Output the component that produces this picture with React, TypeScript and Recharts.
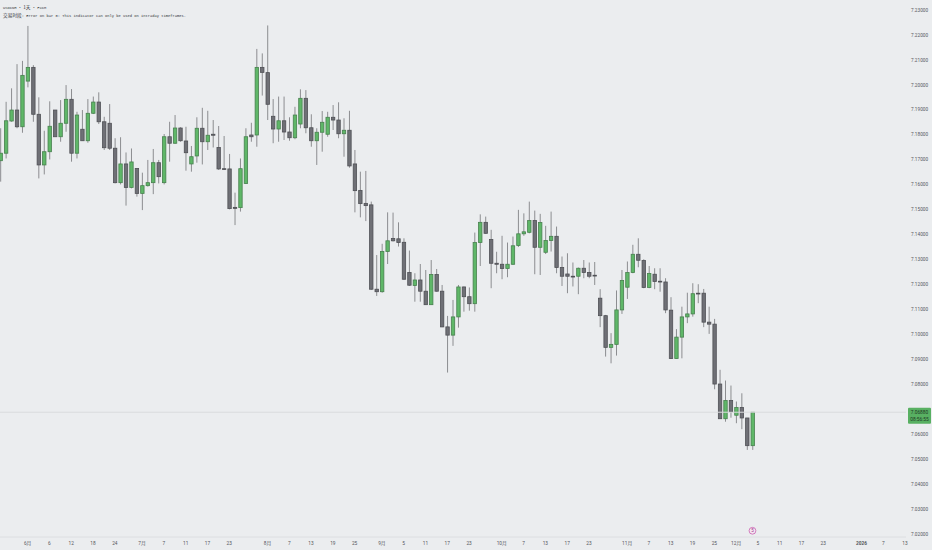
import {
  ComposedChart,
  Bar,
  XAxis,
  YAxis,
  ReferenceLine,
  ReferenceDot,
} from "recharts";

const opens = [
  7.1696, 7.1726, 7.1855, 7.1899, 7.1832, 7.2015, 7.207, 7.1882, 7.1679, 7.1732,
  7.1899, 7.1792, 7.1846, 7.1942, 7.1726, 7.1822, 7.1776, 7.1886, 7.1931, 7.1852,
  7.1846, 7.1746, 7.1608, 7.1683, 7.1589, 7.1665, 7.1565, 7.1596, 7.1608, 7.1688,
  7.1608, 7.1792, 7.1766, 7.1827, 7.1775, 7.1683, 7.1715, 7.1826, 7.1772, 7.1802,
  7.1749, 7.1664, 7.1663, 7.1509, 7.1508, 7.1605, 7.1799, 7.1799, 7.207, 7.2049,
  7.1874, 7.1823, 7.1856, 7.1811, 7.1788, 7.1843, 7.1946, 7.1828, 7.1776, 7.181,
  7.1802, 7.187, 7.1859, 7.1804, 7.1818, 7.1683, 7.1577, 7.1525, 7.1519, 7.1181,
  7.1171, 7.1332, 7.1384, 7.1383, 7.1369, 7.1248, 7.1196, 7.1218, 7.1173, 7.1119,
  7.124, 7.1173, 7.103, 7.0997, 7.107, 7.119, 7.1151, 7.1123, 7.1368, 7.1449,
  7.138, 7.1285, 7.1281, 7.1264, 7.1281, 7.1356, 7.1403, 7.1409, 7.1456, 7.1349,
  7.1329, 7.1376, 7.1393, 7.1268, 7.1242, 7.1233, 7.1233, 7.1265, 7.1248, 7.1237,
  7.1145, 7.1075, 7.0948, 7.096, 7.1098, 7.1189, 7.1248, 7.1321, 7.1296, 7.1188,
  7.1241, 7.1213, 7.121, 7.1097, 7.0903, 7.0989, 7.107, 7.1082, 7.1165, 7.1165,
  7.1049, 7.1041, 7.0801, 7.0662, 7.0735, 7.0676, 7.0707, 7.0665, 7.0554,
];

const highs = [
  7.1826, 7.1932, 7.1986, 7.2083, 7.2096, 7.2236, 7.2079, 7.195, 7.1816, 7.1934,
  7.1899, 7.1939, 7.1999, 7.1983, 7.1892, 7.1899, 7.1943, 7.1953, 7.197, 7.1872,
  7.1923, 7.1786, 7.179, 7.1729, 7.1745, 7.1665, 7.1648, 7.1699, 7.1743, 7.1699,
  7.1803, 7.1852, 7.1879, 7.183, 7.1832, 7.1755, 7.187, 7.1908, 7.1896, 7.1859,
  7.1835, 7.1795, 7.1723, 7.1568, 7.1705, 7.1826, 7.1848, 7.2144, 7.2126, 7.2238,
  7.1943, 7.1953, 7.1953, 7.187, 7.1912, 7.1982, 7.1979, 7.1882, 7.1826, 7.1895,
  7.1892, 7.1919, 7.193, 7.1866, 7.1896, 7.1739, 7.1652, 7.1655, 7.1532, 7.1318,
  7.1363, 7.1489, 7.1488, 7.1449, 7.1385, 7.1336, 7.1245, 7.1282, 7.1258, 7.1298,
  7.1262, 7.1198, 7.1074, 7.1138, 7.1198, 7.1192, 7.1188, 7.1408, 7.1481, 7.1472,
  7.1419, 7.1331, 7.1395, 7.1368, 7.1392, 7.1499, 7.1485, 7.1532, 7.1496, 7.1483,
  7.1435, 7.1492, 7.1432, 7.1312, 7.1325, 7.1288, 7.1268, 7.1298, 7.1288, 7.129,
  7.1181, 7.1078, 7.1005, 7.1176, 7.1258, 7.1292, 7.1359, 7.1385, 7.1301, 7.1274,
  7.1265, 7.1265, 7.1225, 7.1149, 7.1021, 7.1111, 7.1167, 7.1205, 7.1201, 7.1182,
  7.1111, 7.1062, 7.0858, 7.0815, 7.0795, 7.0731, 7.0764, 7.0665, 7.0688,
];

const lows = [
  7.1612, 7.1705, 7.1852, 7.1826, 7.1808, 7.199, 7.1852, 7.1625, 7.1641, 7.1701,
  7.1792, 7.1772, 7.1812, 7.1692, 7.1705, 7.1776, 7.1768, 7.1883, 7.1843, 7.1739,
  7.1739, 7.1605, 7.1601, 7.1516, 7.1585, 7.1552, 7.1498, 7.1592, 7.1562, 7.1605,
  7.1601, 7.1692, 7.1763, 7.1772, 7.1656, 7.1652, 7.1688, 7.1681, 7.1739, 7.1749,
  7.1659, 7.1659, 7.1501, 7.1438, 7.1492, 7.1603, 7.1772, 7.1752, 7.1957, 7.1859,
  7.1766, 7.1772, 7.1779, 7.1776, 7.1782, 7.1826, 7.1806, 7.1752, 7.1679, 7.1732,
  7.1792, 7.1819, 7.1786, 7.1712, 7.1668, 7.1489, 7.1469, 7.1454, 7.1178, 7.1154,
  7.1167, 7.1282, 7.1372, 7.1352, 7.1218, 7.1194, 7.1131, 7.1131, 7.1118, 7.1118,
  7.1171, 7.1029, 7.0847, 7.0954, 7.1027, 7.1091, 7.1095, 7.1091, 7.1274, 7.1403,
  7.1185, 7.1245, 7.1221, 7.1229, 7.1278, 7.135, 7.1395, 7.1405, 7.1241, 7.1238,
  7.1322, 7.1332, 7.1245, 7.1194, 7.1165, 7.1192, 7.1161, 7.1225, 7.1225, 7.1198,
  7.1029, 7.0911, 7.0884, 7.0915, 7.1082, 7.1142, 7.1245, 7.1269, 7.1185, 7.1185,
  7.1181, 7.1171, 7.1085, 7.0902, 7.0902, 7.0904, 7.1045, 7.1071, 7.1125, 7.1029,
  7.1002, 7.078, 7.0662, 7.065, 7.0666, 7.0644, 7.062, 7.0537, 7.0537,
];

const closes = [
  7.1726, 7.1856, 7.1899, 7.1832, 7.2038, 7.207, 7.1882, 7.1679, 7.1732, 7.1834,
  7.1792, 7.1846, 7.1942, 7.1726, 7.1879, 7.1776, 7.1886, 7.1931, 7.1852, 7.1748,
  7.1746, 7.1608, 7.1683, 7.1589, 7.1691, 7.1565, 7.1596, 7.1608, 7.1688, 7.1632,
  7.1792, 7.1766, 7.1827, 7.1776, 7.1728, 7.1712, 7.1826, 7.1772, 7.1798, 7.1798,
  7.1663, 7.1661, 7.1504, 7.1505, 7.1664, 7.1792, 7.1792, 7.207, 7.205, 7.1922,
  7.1823, 7.1856, 7.1811, 7.1788, 7.1879, 7.1946, 7.1828, 7.1776, 7.181, 7.185,
  7.187, 7.1859, 7.1804, 7.1818, 7.1675, 7.1576, 7.1524, 7.1516, 7.1181, 7.1171,
  7.1332, 7.1375, 7.1375, 7.1368, 7.1221, 7.1197, 7.1218, 7.1173, 7.1119, 7.124,
  7.1173, 7.103, 7.0997, 7.107, 7.119, 7.1151, 7.1123, 7.1368, 7.1449, 7.1405,
  7.1285, 7.1281, 7.1264, 7.1281, 7.1355, 7.1403, 7.1411, 7.1456, 7.1349, 7.1448,
  7.1376, 7.1393, 7.1268, 7.1233, 7.1233, 7.1232, 7.1265, 7.1248, 7.1233, 7.1234,
  7.1075, 7.0948, 7.096, 7.1098, 7.1216, 7.1248, 7.1321, 7.1297, 7.1188, 7.1244,
  7.1212, 7.121, 7.1098, 7.0903, 7.0989, 7.107, 7.1082, 7.1163, 7.1162, 7.1049,
  7.1041, 7.0801, 7.0662, 7.0735, 7.069, 7.0707, 7.0665, 7.0554, 7.0688,
];

const priceTicks = [
  7.02, 7.03, 7.04, 7.05, 7.06, 7.08, 7.09, 7.1, 7.11, 7.12, 7.13, 7.14, 7.15,
  7.16, 7.17, 7.18, 7.19, 7.2, 7.21, 7.22, 7.23,
];

const timeTickIndexes = [
  5, 9, 13, 17, 21, 26, 30, 34, 38, 42, 49, 53, 57, 61, 65, 70, 74, 78, 82, 86,
  92, 96, 100, 104, 108, 115, 119, 123, 127, 131, 135, 139, 143, 147, 151, 158,
  162, 166,
];
const timeTickLabels = [
  "6月", "6", "12", "18", "24", "7月", "7", "11", "17", "23", "8月", "7", "13",
  "19", "25", "9月", "5", "11", "17", "23", "10月", "7", "13", "17", "23", "11月",
  "7", "13", "19", "25", "12月", "5", "11", "17", "23", "2026", "7", "13",
];

const lastPrice = 7.0688;
const countdown = "08:56:55";

const data = opens.map((open, i) => ({
  idx: i,
  open,
  high: highs[i],
  low: lows[i],
  close: closes[i],
  range: [lows[i], highs[i]],
}));

const mono = "'Liberation Mono', monospace";
const cjk = "'Noto Sans CJK SC', sans-serif";

// body and wick are worked out from the bar recharts already scaled to high/low
function Candle(props: any) {
  const { x, y, width, height, payload } = props;
  const up = payload.close >= payload.open;
  const cx = x + width / 2;
  const h = Math.abs(height);
  const perUnit = h / (payload.high - payload.low);
  const top = y + (payload.high - Math.max(payload.open, payload.close)) * perUnit;
  const bodyH = Math.abs(payload.close - payload.open) * perUnit;
  return (
    <g>
      <line x1={cx} x2={cx} y1={y} y2={y + h} stroke="#8c8d90" strokeWidth={1} />
      <rect
        x={cx - 1.7}
        y={top}
        width={3.4}
        height={Math.max(bodyH, 0.8)}
        fill={up ? "#5fb768" : "#6f7076"}
        stroke={up ? "#47804e" : "#4f5055"}
        strokeWidth={0.8}
      />
    </g>
  );
}

function TimeTick(props: any) {
  const { x, y, index } = props;
  const label = timeTickLabels[index];
  return (
    <text
      x={x}
      y={y}
      textAnchor="middle"
      fontSize={4.8}
      fontFamily={"Roboto, " + cjk}
      fontWeight={label === "2026" ? 700 : 400}
      fill="#55575c"
    >
      {label}
    </text>
  );
}

// green price tag on the right axis
function PriceTag(props: any) {
  const { viewBox } = props;
  const py = viewBox.y;
  const left = viewBox.x + viewBox.width + 2;
  return (
    <g fontFamily="Roboto" fontSize={4.8} fill="#1f3a26">
      <rect x={left} y={py - 4.5} width={23} height={16} rx={1} fill="#58b062" />
      <text x={left + 11.5} y={py + 2} textAnchor="middle">
        {lastPrice.toFixed(5)}
      </text>
      <text x={left + 11.5} y={py + 8.5} textAnchor="middle">
        {countdown}
      </text>
    </g>
  );
}

function EventMark(props: any) {
  const { cx, cy } = props;
  return (
    <g>
      <circle cx={cx} cy={cy} r={3.4} fill="#f3e6f1" stroke="#c64fa8" strokeWidth={0.7} />
      <text x={cx} y={cy + 1.6} textAnchor="middle" fontSize={4.5} fill="#a0348a" fontFamily="Roboto">
        5
      </text>
    </g>
  );
}

export default function App() {
  return (
    <div
      style={{
        position: "absolute",
        left: 0,
        top: 0,
        width: 932,
        height: 550,
        overflow: "hidden",
        background: "#ebedef",
      }}
    >
      <ComposedChart
        width={932}
        height={550}
        data={data}
        margin={{ top: 0, right: 0, left: 0, bottom: 0 }}
      >
        <XAxis
          dataKey="idx"
          type="number"
          domain={[-0.073, 166.17]}
          allowDataOverflow
          ticks={timeTickIndexes}
          interval={0}
          height={13}
          tickLine={false}
          axisLine={{ stroke: "#dcdee1" }}
          tick={<TimeTick />}
        />
        <YAxis
          orientation="right"
          domain={[7.0188, 7.234]}
          allowDataOverflow
          ticks={priceTicks}
          interval={0}
          width={26}
          tickLine={false}
          axisLine={false}
          tickSize={5}
          tickMargin={0}
          tickFormatter={(v: number) => v.toFixed(5)}
          tick={{ fontSize: 4.7, fill: "#55575c", fontFamily: "Roboto" }}
        />
        <ReferenceLine y={lastPrice} stroke="#d9dbdd" label={<PriceTag />} />
        <Bar dataKey="range" barSize={4} shape={<Candle />} isAnimationActive={false} />
        <ReferenceDot x={138} y={7.0213} r={3.4} shape={<EventMark />} />
      </ComposedChart>
      <div
        style={{
          position: "absolute",
          left: 3,
          top: 4,
          color: "#33353a",
          fontFamily: mono,
          fontSize: 3.75,
          lineHeight: "7px",
          whiteSpace: "pre",
        }}
      >
        <div>
          USDCNH • <span style={{ fontFamily: cjk, fontSize: 4.7 }}>1天</span> • FXCM
        </div>
        <div>
          <span style={{ fontFamily: cjk, fontSize: 4.7 }}>交易时段</span>
          : Error on bar 0: This indicator can only be used on intraday timeframes.
        </div>
      </div>
    </div>
  );
}
